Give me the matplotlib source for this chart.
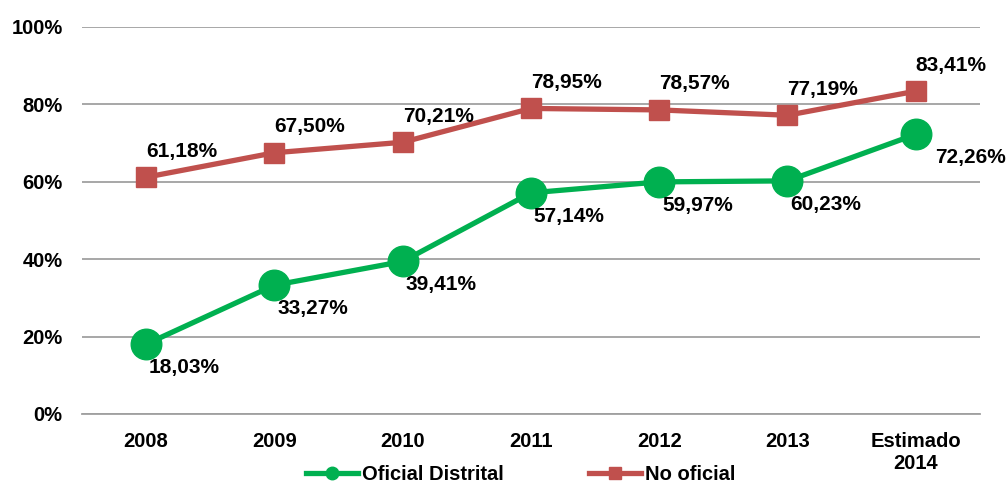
import matplotlib.pyplot as plt
from matplotlib.lines import Line2D

### DATA

years = ['2008', '2009', '2010', '2011', '2012', '2013', 'Estimado\n2014']
oficial = [18.03, 33.27, 39.41, 57.14, 59.97, 60.23, 72.26]
no_oficial = [61.18, 67.50, 70.21, 78.95, 78.57, 77.19, 83.41]
yticks = [0, 20, 40, 60, 80, 100]

green = '#00B050'
red = '#C0504D'

plt.rcParams['font.family'] = ['Liberation Sans', 'DejaVu Sans']
plt.rcParams['font.weight'] = 'bold'

### CHART

fig = plt.figure(figsize=(10.07, 4.87), dpi=100)
ax = fig.add_axes([0.0814, 0.150, 0.8917, 0.7946])
x = list(range(len(years)))

ax.plot(x, no_oficial, color=red, lw=3.8, marker='s', ms=14, zorder=3)
ax.plot(x, oficial, color=green, lw=3.8, marker='o', ms=22, zorder=3)

for i, v in enumerate(no_oficial):  # labels above the red line
    ax.annotate(f'{v:.2f}%'.replace('.', ','), (i, v), xytext=(0, 12), textcoords='offset points',
                ha='left', va='bottom', fontsize=15, fontweight='bold')
for i, v in enumerate(oficial):  # labels below the green line
    dx = 14 if i == len(oficial) - 1 else 2
    ax.annotate(f'{v:.2f}%'.replace('.', ','), (i, v), xytext=(dx, -10), textcoords='offset points',
                ha='left', va='top', fontsize=15, fontweight='bold')

ax.set_xlim(-0.5, len(years) - 0.5)
ax.set_ylim(0, 100)
ax.set_yticks(yticks)
ax.set_yticklabels([f'{t}%' for t in yticks])
ax.set_xticks(x)
ax.set_xticklabels(years, linespacing=1.2)
ax.tick_params(axis='both', length=0, labelsize=14.5)
ax.tick_params(axis='y', pad=14)
ax.tick_params(axis='x', pad=13)
ax.grid(axis='y', color='#A0A0A0', lw=1.3)
ax.set_axisbelow(True)
for s in ['top', 'right', 'left']:
    ax.spines[s].set_visible(False)
ax.spines['bottom'].set_color('#A0A0A0')
ax.spines['bottom'].set_linewidth(1.3)

handles = [Line2D([], [], color=green, lw=3.8, marker='o', ms=9),
           Line2D([], [], color=red, lw=3.8, marker='s', ms=8)]
fig.legend(handles, ['Oficial Distrital', 'No oficial'], loc='center', bbox_to_anchor=(0.517, 0.026),
           ncol=2, frameon=False, fontsize=14.5, handlelength=2.6, handletextpad=0.2, columnspacing=4.2)

plt.savefig('out.png', dpi=100)
